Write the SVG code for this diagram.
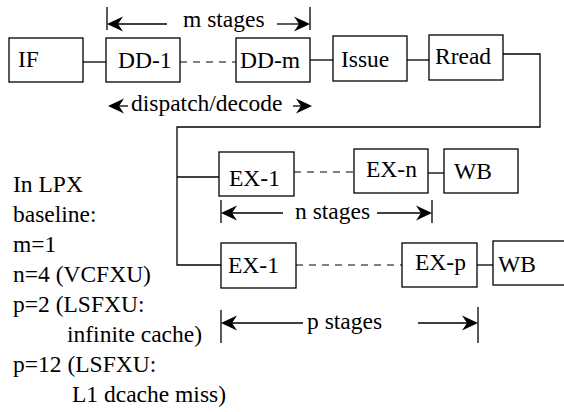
<svg xmlns="http://www.w3.org/2000/svg" xmlns:xlink="http://www.w3.org/1999/xlink" width="564" height="412" viewBox="0 0 564 412">
<style>
  .box{fill:#fff;stroke:#000;stroke-width:1.3}
  .t{font-family:"Liberation Serif","Times New Roman",serif;font-size:23.5px;fill:#000}
  .ln{fill:none;stroke:#000;stroke-width:1.3}
  .dash{fill:none;stroke:#000;stroke-width:1.1;stroke-dasharray:7 6}
  .head{fill:#000;stroke:none}
</style>
<defs>
  <path id="hl" class="head" d="M0,0 L16,-7.5 L11,0 L16,7.5 Z"/>
  <path id="hr" class="head" d="M0,0 L-16,-7.5 L-11,0 L-16,7.5 Z"/>
</defs>
<rect width="564" height="412" fill="#fff"/>

<g id="connectors">
  <line class="ln" x1="83" y1="62" x2="106" y2="62"/>
  <line class="dash" x1="180" y1="62" x2="236" y2="62"/>
  <line class="ln" x1="310" y1="60" x2="333" y2="60"/>
  <line class="ln" x1="407" y1="60" x2="429" y2="60"/>
  <polyline class="ln" points="503,54 540,54 540,127 177,127 177,265 221,265"/>
  <line class="ln" x1="177" y1="177" x2="219" y2="177"/>
  <line class="dash" x1="294" y1="172" x2="354" y2="172"/>
  <line class="ln" x1="428" y1="173" x2="444" y2="173"/>
  <line class="dash" x1="296" y1="265" x2="402" y2="265"/>
  <line class="ln" x1="477" y1="265" x2="493" y2="265"/>
</g>

<g id="IF"><rect class="box" x="9" y="38" width="74" height="44"/><text class="t" x="18" y="67">IF</text></g>
<g id="DD-1"><rect class="box" x="106" y="38" width="74" height="44"/><text class="t" x="118" y="68">DD-1</text></g>
<g id="DD-m"><rect class="box" x="236" y="38" width="74" height="44"/><text class="t" x="240" y="68">DD-m</text></g>
<g id="Issue"><rect class="box" x="333" y="36" width="74" height="45"/><text class="t" x="341" y="67">Issue</text></g>
<g id="Rread"><rect class="box" x="429" y="35" width="74" height="45"/><text class="t" x="435" y="64">Rread</text></g>
<g id="EX-1a"><rect class="box" x="219" y="152" width="75" height="44"/><text class="t" x="229" y="186">EX-1</text></g>
<g id="EX-n"><rect class="box" x="354" y="149" width="74" height="44"/><text class="t" x="366" y="177">EX-n</text></g>
<g id="WBa"><rect class="box" x="444" y="149" width="74" height="44"/><text class="t" x="454" y="179">WB</text></g>
<g id="EX-1b"><rect class="box" x="221" y="243" width="75" height="45"/><text class="t" x="228" y="273">EX-1</text></g>
<g id="EX-p"><rect class="box" x="402" y="243" width="75" height="44"/><text class="t" x="415" y="270">EX-p</text></g>
<g id="WBb"><rect class="box" x="493" y="241" width="80" height="44"/><text class="t" x="498" y="272">WB</text></g>

<g id="m-stages">
  <line class="ln" x1="107" y1="7" x2="107" y2="30"/>
  <line class="ln" x1="310" y1="7" x2="310" y2="30"/>
  <line class="ln" x1="167" y1="24" x2="110" y2="24"/>
  <line class="ln" x1="277" y1="24" x2="307" y2="24"/>
  <use xlink:href="#hl" x="107" y="24"/>
  <use xlink:href="#hr" x="310" y="24"/>
  <text class="t" x="183" y="27">m stages</text>
</g>
<g id="dispatch">
  <line class="ln" x1="128" y1="106" x2="112" y2="106"/>
  <line class="ln" x1="293" y1="106" x2="308" y2="106"/>
  <use xlink:href="#hl" x="108" y="106"/>
  <use xlink:href="#hr" x="312" y="106"/>
  <text class="t" x="131" y="111">dispatch/decode</text>
</g>
<g id="n-stages">
  <line class="ln" x1="221" y1="200" x2="221" y2="223"/>
  <line class="ln" x1="432" y1="200" x2="432" y2="223"/>
  <line class="ln" x1="283" y1="213" x2="224" y2="213"/>
  <line class="ln" x1="377" y1="213" x2="429" y2="213"/>
  <use xlink:href="#hl" x="221" y="213"/>
  <use xlink:href="#hr" x="432" y="213"/>
  <text class="t" x="295" y="219">n stages</text>
</g>
<g id="p-stages">
  <line class="ln" x1="221" y1="310" x2="221" y2="343"/>
  <line class="ln" x1="478" y1="307" x2="478" y2="343"/>
  <line class="ln" x1="303" y1="323" x2="224" y2="323"/>
  <line class="ln" x1="418" y1="323" x2="475" y2="323"/>
  <use xlink:href="#hl" x="221" y="323"/>
  <use xlink:href="#hr" x="478" y="323"/>
  <text class="t" x="307" y="329">p stages</text>
</g>

<g id="notes" class="t">
  <text x="13" y="192">In LPX</text>
  <text x="13" y="222">baseline:</text>
  <text x="13" y="252">m=1</text>
  <text x="13" y="282">n=4 (VCFXU)</text>
  <text x="13" y="312">p=2 (LSFXU:</text>
  <text x="67" y="342">infinite cache)</text>
  <text x="13" y="372">p=12 (LSFXU:</text>
  <text x="72" y="402">L1 dcache miss)</text>
</g>
</svg>
